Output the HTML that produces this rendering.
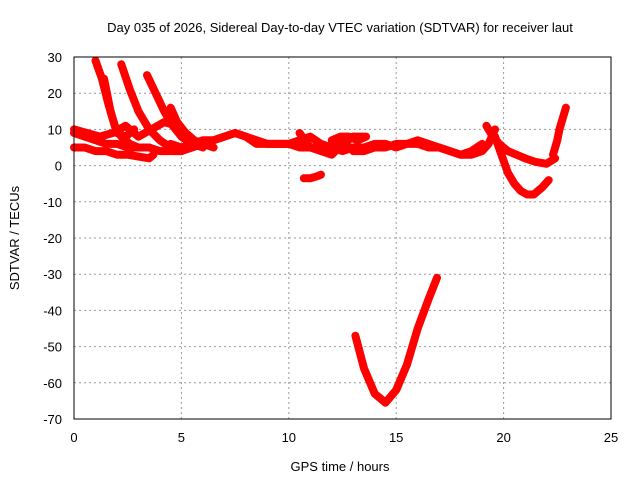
<!DOCTYPE html>
<html><head><meta charset="utf-8"><style>
body{margin:0;background:#fff}
svg{display:block;font-family:"Liberation Sans",sans-serif;font-size:13px}
</style></head><body>
<svg id="c" width="640" height="480">
<text x="340" y="32" text-anchor="middle">Day 035 of 2026, Sidereal Day-to-day VTEC variation (SDTVAR) for receiver laut</text>
<text x="340" y="471" text-anchor="middle">GPS time / hours</text>
<text transform="translate(19,238) rotate(-90)" text-anchor="middle">SDTVAR / TECUs</text>
<g id="grid"></g><g id="ticks"></g><g id="series"></g>
<rect x="74" y="57" width="537" height="362" fill="none" stroke="#000"/>
</svg>
<script>
const xTicks=[0,5,10,15,20,25];
const yTicks=[30,20,10,0,-10,-20,-30,-40,-50,-60,-70];
const seriesT=[
[0,0.5,1,1.5,2,2.5,3,3.5,4,4.5,5,5.5,6,6.5,7,7.5,8,8.5,9,9.5,10,10.5,11,11.5,12,12.5,13],
[4.5,5,5.5,6,6.5,7,7.5,8,8.5,9,9.5,10,10.5,11,11.5,12,12.5,13,13.5],
[1.0,1.3,1.6,1.9,2.2,2.6,3.0,3.5],
[2.2,2.6,3.0,3.5,4.0,4.5,5.0],
[3.4,3.8,4.2,4.6,5.0,5.5,6.0],
[4.5,4.8,5.2,5.6,6.0,6.5],
[1.4,1.7,2.0,2.4,2.8],
[0,0.5,1,1.5,2,2.5,3,3.5,3.7],
[0,0.6,1.2,1.8,2.4,3,3.6,4.2,4.8,5.4],
[10.7,11.0,11.3,11.5],
[13.1,13.5,14,14.5,15,15.5,16,16.5,16.9],
[12,12.5,13,13.5,14,14.5,15,15.5,16,16.5,17,17.5,18,18.5,19,19.3,19.6],
[13,13.5,14,14.5,15,15.5,16,16.5,17,17.5,18,18.5,19],
[19.2,19.5,19.8,20.2,20.6,21,21.5,22,22.4],
[19.6,19.9,20.2,20.5,20.8,21.1,21.4,21.8,22.1],
[22.3,22.5,22.6,22.7,22.8,22.9],
[10.5,11,11.5,12,12.5,13],
[12,12.4,12.8,13.2,13.6]
];
const seriesV=[
[9,8,7,6,6,5,5,5,4,4,4,5,6,7,8,9,8,6,6,6,6,5,5,5,5,4,5],
[6,5,6,7,7,8,9,8,7,6,6,6,7,8,6,5,7,8,8],
[29,24,17,11,8,6,5,5],
[28,21,15,10,7,5,4],
[25,20,15,11,8,6,5],
[16,12,9,7,6,5],
[24,15,9,8,10],
[5,5,4,4,3,3,2.5,2,3],
[10,9,8,9,11,8,10,12,11,8],
[-3.5,-3.5,-3,-2.5],
[-47,-56,-63,-65.5,-62,-55,-45,-37,-31],
[5,5,5,5,6,6,5,6,6,5,5,4,3,3,4,6,10],
[4,4,5,5,6,6,7,6,5,4,3,4,6],
[11,8,6,4,3,2,1,0.5,2],
[8,3,-2,-5,-7,-8,-8,-6,-4],
[3,7,10,12,14,16],
[9,5,4,3,6,8],
[7,8,8,7,8]
];
const X=t=>74+t*537/25, Y=v=>57+(30-v)*362/100;
const NS="http://www.w3.org/2000/svg";
const g=document.getElementById('grid'),tk=document.getElementById('ticks'),s=document.getElementById('series');
xTicks.forEach(t=>{
 if(t>0&&t<25){const l=document.createElementNS(NS,'line');l.setAttribute('x1',X(t));l.setAttribute('x2',X(t));l.setAttribute('y1',57);l.setAttribute('y2',419);l.setAttribute('stroke','#999');l.setAttribute('stroke-dasharray','2,3');
 
 g.appendChild(l);}
 const tx=document.createElementNS(NS,'text');tx.setAttribute('x',X(t));tx.setAttribute('y',442);tx.setAttribute('text-anchor','middle');tx.textContent=t;
 
 tk.appendChild(tx);
});
yTicks.forEach(v=>{
 if(v<30&&v>-70){const l=document.createElementNS(NS,'line');l.setAttribute('x1',74);l.setAttribute('x2',611);l.setAttribute('y1',Y(v));l.setAttribute('y2',Y(v));l.setAttribute('stroke','#999');l.setAttribute('stroke-dasharray','2,3');
 
 g.appendChild(l);}
 const tx=document.createElementNS(NS,'text');tx.setAttribute('x',62);tx.setAttribute('y',Y(v)+5);tx.setAttribute('text-anchor','end');tx.textContent=v;
 
 tk.appendChild(tx);
});
seriesT.forEach((ts,i)=>{
 const p=document.createElementNS(NS,'polyline');
 p.setAttribute('points',ts.map((t,j)=>X(t)+','+Y(seriesV[i][j])).join(' '));
 p.setAttribute('fill','none');p.setAttribute('stroke','#f00');p.setAttribute('stroke-width','8');p.setAttribute('stroke-linejoin','round');p.setAttribute('stroke-linecap','round');
 
 
 s.appendChild(p);
});
</script>
</body></html>
